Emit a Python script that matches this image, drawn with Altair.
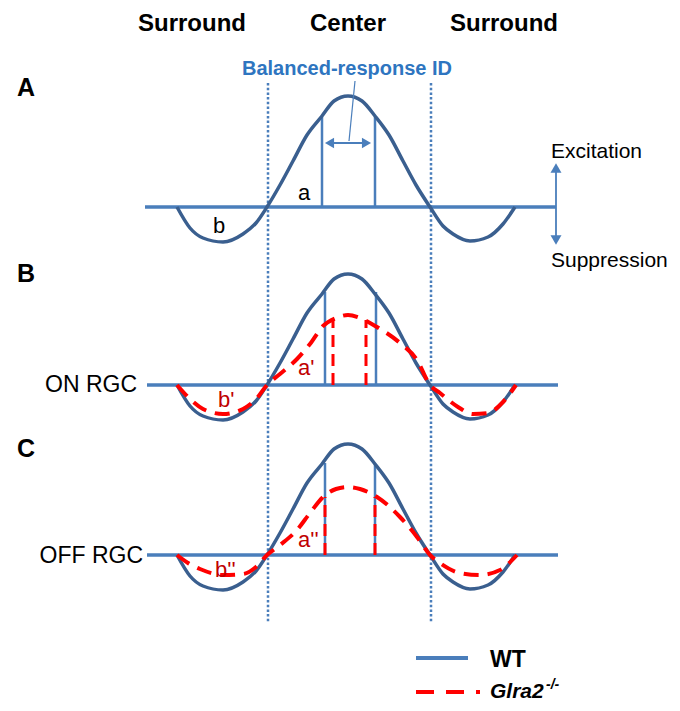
import altair as alt
import pandas as pd

# ---------------- data ----------------
panels = ["A", "B", "C"]
panel_base = [207, 385, 555]          # baseline of each panel (px)

# WT receptive-field profile (position relative to centre, response)
wt_pos = [-171, -158, -145, -125, -105, -92, -81, -68, -55, -41, -26, -14, 0,
          14, 27, 41, 55, 68, 82, 95, 105, 122, 140, 155, 167]
wt_resp = [0, -21, -31, -35, -27, -16, 0, 22, 46, 72, 91, 106, 111,
           106, 91, 72, 46, 22, 0, -19, -27, -34, -30, -17, 0]

# Glra2-/- ON RGC (panel B)
on_pos = [-171, -158, -145, -125, -105, -91, -81, -68, -51, -38, -25, -12, 0,
          12, 29, 52, 69, 82, 92, 110, 125, 140, 155, 168]
on_resp = [0, -14, -24, -29, -24, -13, 0, 11, 26, 41, 59, 67, 70,
           67, 58, 42, 25, 0, -8, -22, -29, -28, -17, 0]

# Glra2-/- OFF RGC (panel C)
off_pos = [-171, -160, -148, -125, -105, -92, -81, -68, -51, -38, -25, -12, 0,
           12, 29, 52, 69, 82, 92, 112, 132, 152, 169]
off_resp = [0, -8, -14, -20, -19, -12, 0, 10, 25, 42, 58, 66, 68,
            66, 58, 38, 18, 0, -8, -18, -20, -15, 0]

# balanced-response ID markers
wt_id_pos = [[-26, 27], [-23, 28], [-23, 27]]
wt_id_top = [[90, 90], [93, 93], [92, 92]]
ko_id_panel = ["B", "B", "C", "C"]
ko_id_pos = [-15, 18, -23, 27]
ko_id_top = [65, 65, 58, 58]

top_labels = ["Surround", "Center", "Surround"]
panel_letters = ["A", "B", "C"]
cell_labels = ["ON RGC", "OFF RGC"]
area_labels_wt = ["a", "b"]
area_labels_on = ["a'", "b'"]
area_labels_off = ["a''", "b''"]

# ---------------- styles ----------------
LIGHT = "#4a7ebb"
DARK = "#3a5f8f"
RED = "#ff0000"
DRED = "#c00000"
TXTBLUE = "#2e75c0"
FONT = "Liberation Sans"

XS = alt.Scale(domain=[-340, 324], nice=False, zero=False)
YS = alt.Scale(domain=[8, 703], reverse=True, nice=False, zero=False)


def X(f="x"):
    return alt.X(f"{f}:Q", scale=XS, axis=None)


def Y(f="y"):
    return alt.Y(f"{f}:Q", scale=YS, axis=None)


base_of = dict(zip(panels, panel_base))

# curves
rows = []
for p in panels:
    for i, (xv, rv) in enumerate(zip(wt_pos, wt_resp)):
        rows.append({"x": xv, "y": base_of[p] - rv, "g": "WT" + p, "o": i})
wt_df = pd.DataFrame(rows)

rows = []
for g, p, xs, rs in [("B", "B", on_pos, on_resp), ("C", "C", off_pos, off_resp)]:
    for i, (xv, rv) in enumerate(zip(xs, rs)):
        rows.append({"x": xv, "y": base_of[p] - rv, "g": "KO" + g, "o": i})
ko_df = pd.DataFrame(rows)

layers = []

# dotted centre/surround borders
dot_df = pd.DataFrame({"x": [-80, 83], "y": [83, 83], "y2": [622, 622]})
layers.append(alt.Chart(dot_df).mark_rule(color=LIGHT, strokeWidth=2.5, strokeDash=[2.5, 2.2])
              .encode(x=X(), y=Y(), y2="y2:Q"))

# baselines
bl_df = pd.DataFrame({"x": [-203, -201, -201], "x2": [208, 210, 210], "y": panel_base})
layers.append(alt.Chart(bl_df).mark_rule(color=LIGHT, strokeWidth=3.5)
              .encode(x=X(), x2="x2:Q", y=Y()))

# WT balanced-response verticals
rows = []
for p, ps, ts in zip(panels, wt_id_pos, wt_id_top):
    for xv, tv in zip(ps, ts):
        rows.append({"x": xv, "y": base_of[p], "y2": base_of[p] - tv})
layers.append(alt.Chart(pd.DataFrame(rows)).mark_rule(color=LIGHT, strokeWidth=2.5)
              .encode(x=X(), y=Y(), y2="y2:Q"))

# WT curves
layers.append(alt.Chart(wt_df).mark_line(color=DARK, strokeWidth=3.5, interpolate="monotone")
              .encode(x=X(), y=Y(), detail="g:N", order="o:Q"))

# KO curves
layers.append(alt.Chart(ko_df).mark_line(color=RED, strokeWidth=4, strokeDash=[15, 9],
                                         interpolate="monotone")
              .encode(x=X(), y=Y(), detail="g:N", order="o:Q"))

# KO balanced-response verticals
kv_df = pd.DataFrame({"x": ko_id_pos,
                      "y": [base_of[p] for p in ko_id_panel],
                      "y2": [base_of[p] - t for p, t in zip(ko_id_panel, ko_id_top)]})
layers.append(alt.Chart(kv_df).mark_rule(color=RED, strokeWidth=3, strokeDash=[12, 7])
              .encode(x=X(), y=Y(), y2="y2:Q"))

# balanced-response double arrow + leader
arr_df = pd.DataFrame({"x": [-18], "x2": [18], "y": [143]})
layers.append(alt.Chart(arr_df).mark_rule(color=LIGHT, strokeWidth=1.8)
              .encode(x=X(), x2="x2:Q", y=Y()))
lead_df = pd.DataFrame({"x": [7], "y": [81], "x2": [1], "y2": [141]})
layers.append(alt.Chart(lead_df).mark_rule(color=LIGHT, strokeWidth=1.2)
              .encode(x=X(), y=Y(), x2="x2:Q", y2="y2:Q"))
hl = pd.DataFrame({"x": [-18.5], "y": [143]})
hr = pd.DataFrame({"x": [18.5], "y": [143]})
layers.append(alt.Chart(hl).mark_point(shape="triangle-left", filled=True, size=110,
                                       color=LIGHT, opacity=1).encode(x=X(), y=Y()))
layers.append(alt.Chart(hr).mark_point(shape="triangle-right", filled=True, size=110,
                                       color=LIGHT, opacity=1).encode(x=X(), y=Y()))

# excitation / suppression arrow
ex_df = pd.DataFrame({"x": [208], "y": [170], "y2": [238]})
layers.append(alt.Chart(ex_df).mark_rule(color=LIGHT, strokeWidth=1.8)
              .encode(x=X(), y=Y(), y2="y2:Q"))
layers.append(alt.Chart(pd.DataFrame({"x": [208], "y": [168]}))
              .mark_point(shape="triangle-up", filled=True, size=120, color=LIGHT, opacity=1)
              .encode(x=X(), y=Y()))
layers.append(alt.Chart(pd.DataFrame({"x": [208], "y": [240]}))
              .mark_point(shape="triangle-down", filled=True, size=120, color=LIGHT, opacity=1)
              .encode(x=X(), y=Y()))


def txt(df, **kw):
    kw.setdefault("font", FONT)
    kw.setdefault("baseline", "alphabetic")
    return alt.Chart(df).mark_text(**kw).encode(x=X(), y=Y(), text="t:N")


layers.append(txt(pd.DataFrame({"x": [-156, 0, 156], "y": [31, 31, 31], "t": top_labels}),
                  fontSize=24, fontWeight="bold", color="black", align="center"))
layers.append(txt(pd.DataFrame({"x": [-331, -331, -331], "y": [96, 282, 457], "t": panel_letters}),
                  fontSize=25, fontWeight="bold", color="black", align="left"))
layers.append(txt(pd.DataFrame({"x": [-211, -205], "y": [385, 556], "t": cell_labels}),
                  fontSize=23, color="black", align="right", baseline="middle"))
layers.append(txt(pd.DataFrame({"x": [-1], "y": [75], "t": ["Balanced-response ID"]}),
                  fontSize=20, fontWeight="bold", color=TXTBLUE, align="center"))
layers.append(txt(pd.DataFrame({"x": [203, 203], "y": [158, 267], "t": ["Excitation", "Suppression"]}),
                  fontSize=21, color="black", align="left"))
layers.append(txt(pd.DataFrame({"x": [-50, -135], "y": [200, 233], "t": area_labels_wt}),
                  fontSize=22, color="black", align="left"))
layers.append(txt(pd.DataFrame({"x": [-50, -130, -50, -133], "y": [375, 407, 547, 577],
                                "t": area_labels_on + area_labels_off}),
                  fontSize=22, color=DRED, align="left"))

# legend
lg1 = pd.DataFrame({"x": [68], "x2": [120], "y": [658]})
layers.append(alt.Chart(lg1).mark_rule(color=LIGHT, strokeWidth=4)
              .encode(x=X(), x2="x2:Q", y=Y()))
lg2 = pd.DataFrame({"x": [68], "x2": [132], "y": [692]})
layers.append(alt.Chart(lg2).mark_rule(color=RED, strokeWidth=4, strokeDash=[18, 12])
              .encode(x=X(), x2="x2:Q", y=Y()))
layers.append(txt(pd.DataFrame({"x": [142], "y": [667], "t": ["WT"]}),
                  fontSize=23, fontWeight="bold", color="black", align="left"))
layers.append(txt(pd.DataFrame({"x": [142], "y": [698], "t": ["Glra2"]}),
                  fontSize=21, fontWeight="bold", fontStyle="italic", color="black", align="left"))
layers.append(txt(pd.DataFrame({"x": [198], "y": [689], "t": ["-/-"]}),
                  fontSize=14, fontWeight="bold", fontStyle="italic", color="black", align="left"))

chart = alt.layer(*layers).properties(
    width=664, height=695, padding=0,
    autosize=alt.AutoSizeParams(type="none"),
).configure_view(stroke=None)

chart.save("out.html", embed_options={"renderer": "svg", "actions": False})
